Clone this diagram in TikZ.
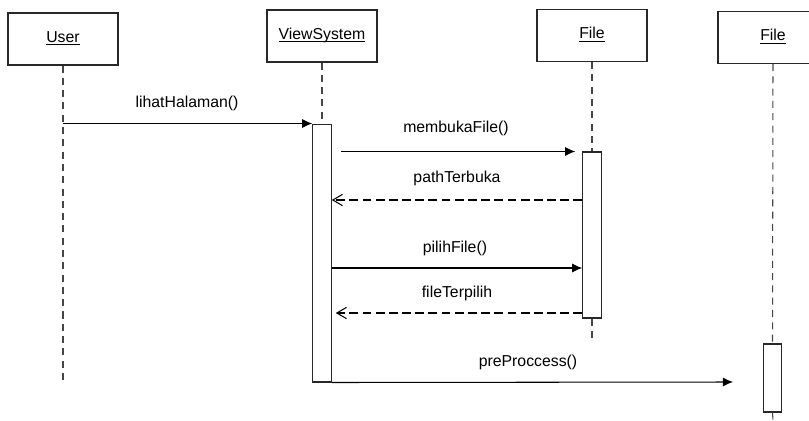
\documentclass[tikz,border=0pt]{standalone}
\usepackage{fontspec}
\setmainfont{Liberation Sans}
\usepackage{tikz}
\usetikzlibrary{arrows.meta,positioning}
\usepackage{xcolor}
\definecolor{sqline}{RGB}{40,40,40}
\definecolor{sqlife}{RGB}{70,70,70}
\newcommand{\objname}[1]{\underline{\smash{#1}}}
\tikzstyle{object} = [rectangle, minimum width=2.2cm, minimum height=1.04cm, text centered, text height=0.75em, text depth=0.4em, draw=sqline, fill=white, line width=0.6pt, font=\fontsize{9}{11}\selectfont]
\tikzstyle{activation} = [rectangle, minimum width=0.37cm, inner sep=0pt, draw=sqline, fill=white, line width=0.6pt]
\tikzstyle{lifeline} = [draw=sqlife, line width=0.6pt, dash pattern=on 4pt off 3pt]
\tikzstyle{call} = [line width=0.6pt, -{Latex[length=5.8pt,width=5.2pt]}]
\tikzstyle{reply} = [line width=0.6pt, dash pattern=on 5pt off 2.5pt, -{Straight Barb[length=5.5pt,width=6.4pt]}]
\tikzstyle{msglabel} = [font=\fontsize{9}{11}\selectfont, inner sep=1pt]

\begin{document}
\begin{tikzpicture}[x=0.02cm, y=-0.02cm]
\useasboundingbox (0,0) rectangle (809,420);

% Objects
\node[object] (user) at (63,39) {\objname{User}};
\node[object] (view) at (322,36) {\objname{ViewSystem}};
\node[object] (file) at (592,35.5) {\objname{File}};
\node[object] (file2) at (773,37.5) {\objname{File}};

% Activations
\node[activation, minimum height=5.16cm] (actview) at (322,253) {};
\node[activation, minimum height=3.32cm] (actfile) at (592,235) {};
\node[activation, minimum height=1.36cm] (actfile2) at (772.5,378) {};

% Lifelines
\coordinate (userend) at (63,382);
\coordinate (fileend) at (592,343);
\coordinate (file2end) at (773,420);
\draw[lifeline] (user.south) -- (userend);
\draw[lifeline] (view.south) -- (actview.north);
\draw[lifeline] (file.south) -- (actfile.north);
\draw[lifeline] (actfile.south) -- (fileend);
\draw[lifeline] (file2.south) -- (actfile2.north);
\draw[lifeline] (actfile2.south) -- (file2end);

% Messages
\coordinate (m1start) at (341,152);
\coordinate (r1) at (0,200);
\coordinate (m2) at (0,268);
\coordinate (r2) at (0,313);
\coordinate (m3end) at (733,382);
\draw[call] (user.south |- actview.north) -- (actview.north west);
\draw[call] (m1start |- actfile.north) -- ([xshift=-0.14cm]actfile.north west);
\draw[reply] (actfile.west |- r1) -- (actview.east |- r1);
\draw[call] (actview.east |- m2) -- (actfile.west |- m2);
\draw[reply] (actfile.west |- r2) -- ([xshift=0.08cm]actview.east |- r2);
\draw[call] (actview.south east) -- (m3end);

% Labels
\node[msglabel] (lblview) at (187,103) {lihatHalaman()};
\node[msglabel] (lblopen) at (456,128) {membukaFile()};
\node[msglabel] (lblpath) at (457,178) {pathTerbuka};
\node[msglabel] (lblpick) at (455,248) {pilihFile()};
\node[msglabel] (lblchosen) at (457,293) {fileTerpilih};
\node[msglabel] (lblpre) at (528,362) {preProccess()};
\end{tikzpicture}
\end{document}
